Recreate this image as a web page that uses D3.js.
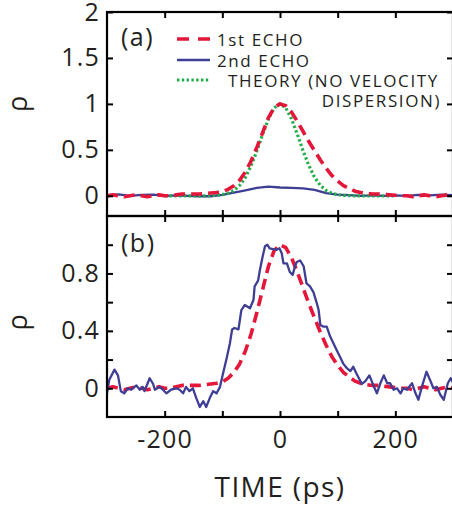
<!DOCTYPE html>
<html>
<head>
<meta charset="utf-8">
<script src="https://cdn.jsdelivr.net/npm/d3@7"></script>
<style>
  html, body { margin: 0; padding: 0; background: #fff; }
  svg { display: block; }
  text { font-family: "Open Sans", "DejaVu Sans", sans-serif; fill: #231f20; }
</style>
</head>
<body>
<svg id="chart" width="452" height="508"></svg>
<script>
// ---- data -----------------------------------------------------------------
// 1st echo (normalized), 10 ps steps
const echo1Time = [-300,-290,-280,-270,-260,-250,-240,-230,-220,-210,-200,-190,-180,-170,-160,-150,-140,-130,-120,-110,
  -100,-90,-80,-70,-60,-50,-40,-30,-20,-10,0,10,20,30,40,50,60,70,80,90,100,110,120,130,140,150,160,170,180,190,200,
  210,220,230,240,250,260,270,280,290,300];
const echo1Value = [0.0,0.01,0.0,-0.01,0.0,0.01,0.0,-0.01,0.0,0.01,0.0,0.0,0.01,0.02,0.02,0.02,0.02,0.025,0.03,0.035,
  0.045,0.07,0.11,0.17,0.26,0.38,0.53,0.69,0.85,0.96,1.0,0.98,0.91,0.81,0.70,0.59,0.49,0.39,0.30,0.22,0.16,0.11,0.08,
  0.05,0.035,0.025,0.02,0.02,0.015,0.01,0.005,0.0,0.0,-0.01,0.0,0.01,0.0,-0.01,0.0,0.01,0.0];

// theory without velocity dispersion
const theoryTime = [-200,-190,-180,-170,-160,-150,-140,-130,-120,-110,-100,-90,-80,-70,-60,-50,-40,-30,-20,-10,0,
  10,20,30,40,50,60,70,80,90,100,110,120,130,140,150,160,170,180,190,200];
const theoryValue = [0,0,0,0,0,0,0,0,0.002,0.005,0.012,0.027,0.058,0.113,0.20,0.33,0.49,0.67,0.837,0.957,1.0,
  0.957,0.837,0.67,0.49,0.33,0.20,0.113,0.058,0.027,0.012,0.005,0.002,0,0,0,0,0,0,0,0];

// 2nd echo, same scale as the 1st echo (panel a)
const echo2RawTime = [-300,-280,-260,-240,-220,-200,-180,-160,-140,-120,-100,-80,-60,-40,-20,0,20,40,60,80,100,
  120,140,160,180,200,220,240,260,280,300];
const echo2RawValue = [0.005,0.015,0.0,0.01,0.012,0.0,0.005,0.0,-0.005,-0.005,0.01,0.035,0.06,0.085,0.1,0.09,0.085,
  0.08,0.065,0.03,0.012,0.008,0.0,0.005,0.0,0.005,0.0,0.01,0.005,0.012,0.005];

// 2nd echo, normalized (panel b)
const echo2Time = [-300,-296,-287,-281,-276,-270,-264,-258,-249,-243,-238,-235,-226,-220,-217,-209,-203,-197,-189,-180,
  -174,-168,-163,-157,-151,-145,-139,-133,-128,-122,-116,-110,-104,-99,-93,-87,-83,-79,-72,-67,-61,-52,-46,-44,-38,
  -35,-30,-26,-22,-18,-12,-6,-1,3,6,12,17,22,26,29,35,41,46,52,58,64,67,70,75,81,87,93,99,104,110,116,122,127,133,
  142,148,155,162,168,174,180,186,191,197,203,209,214,220,229,235,240,246,254,260,266,272,278,284,291,296,300];
const echo2Value = [-0.035,0.06,0.13,0.09,-0.02,-0.035,0.0,-0.01,0.02,-0.01,0.01,-0.02,0.07,0.03,-0.01,0.01,-0.01,
  -0.035,-0.01,0.0,-0.01,-0.035,0.01,-0.02,0.0,-0.07,-0.13,-0.09,-0.13,-0.07,-0.02,-0.035,0.01,0.10,0.20,0.31,0.41,
  0.42,0.41,0.545,0.58,0.557,0.615,0.71,0.75,0.82,0.92,0.99,1.0,0.975,0.97,0.965,0.975,0.94,0.87,0.87,0.81,0.79,0.85,
  0.88,0.89,0.85,0.73,0.71,0.67,0.59,0.545,0.44,0.43,0.43,0.36,0.31,0.26,0.22,0.17,0.14,0.12,0.15,0.10,0.03,0.05,
  0.09,0.02,-0.035,0.035,0.09,0.035,0.035,-0.01,0.0,-0.035,0.0,-0.01,0.035,-0.035,-0.08,0.01,0.115,0.06,0.0,0.01,
  -0.045,-0.08,0.035,0.07,0.04];

// axes
const timeDomain = [-300, 300];
const timeTicks = [-200, -100, 0, 100, 200];
const timeTickLabels = ["-200", "", "0", "", "200"];
const rhoDomainA = [-0.22, 2];
const rhoTicksA = [0, 0.5, 1, 1.5, 2];
const rhoTickLabelsA = ["0", "0.5", "1", "1.5", "2"];
const rhoDomainB = [-0.2, 1.2];
const rhoTicksB = [0, 0.2, 0.4, 0.6, 0.8, 1.0];
const rhoTickLabelsB = ["0", "", "0.4", "", "0.8", ""];

const legendLabels = ["1st ECHO", "2nd ECHO", "THEORY (NO VELOCITY", "DISPERSION)"];

// ---- styles ---------------------------------------------------------------
const RED = "#e4163a", BLUE = "#3e3e94", GREEN = "#1fae48";
const styles = {
  echo1: { stroke: RED, width: 3.6, dash: "11,6" },
  echo2: { stroke: BLUE, width: 2.3, dash: null },
  theory: { stroke: GREEN, width: 3.2, dash: "2.4,2.4" }
};

// ---- layout ---------------------------------------------------------------
const svg = d3.select("#chart");
const left = 107, right = 453;
const panelA = { top: 12, bottom: 216 };
const panelB = { top: 216, bottom: 417 };

const x = d3.scaleLinear().domain(timeDomain).range([left, right]);
const yA = d3.scaleLinear().domain(rhoDomainA).range([panelA.bottom, panelA.top]);
const yB = d3.scaleLinear().domain(rhoDomainB).range([panelB.bottom, panelB.top]);

const defs = svg.append("defs");
function clip(id, p) {
  defs.append("clipPath").attr("id", id)
    .append("rect").attr("x", left).attr("y", p.top)
    .attr("width", right - left).attr("height", p.bottom - p.top);
}
clip("clipA", panelA);
clip("clipB", panelB);

function series(g, y, times, values, st) {
  const pts = times.map((t, i) => [t, values[i]]);
  const line = d3.line().x(d => x(d[0])).y(d => y(d[1]));
  g.append("path").datum(pts)
    .attr("d", line)
    .attr("fill", "none")
    .attr("stroke", st.stroke)
    .attr("stroke-width", st.width)
    .attr("stroke-dasharray", st.dash)
    .attr("stroke-linejoin", "round")
    .attr("stroke-linecap", st.dash ? "butt" : "round");
}

const gA = svg.append("g").attr("clip-path", "url(#clipA)");
series(gA, yA, echo2RawTime, echo2RawValue, styles.echo2);
series(gA, yA, theoryTime, theoryValue, styles.theory);
series(gA, yA, echo1Time, echo1Value, styles.echo1);

const gB = svg.append("g").attr("clip-path", "url(#clipB)");
series(gB, yB, echo1Time, echo1Value, styles.echo1);
series(gB, yB, echo2Time, echo2Value, styles.echo2);

// ---- axes -----------------------------------------------------------------
const TICK = 6;
function styleAxis(g) {
  g.selectAll(".domain").remove();
  g.selectAll(".tick line").attr("stroke", "#000").attr("stroke-width", 2);
  g.selectAll(".tick text")
    .style("font-size", "25px")
    .style("letter-spacing", "1.2px")
    .attr("fill", "#231f20");
}

function frame(p, y, ticks, labels) {
  // left axis with labels
  svg.append("g").attr("transform", `translate(${left},0)`)
    .call(d3.axisLeft(y).tickValues(ticks).tickSizeInner(-TICK).tickSizeOuter(0)
      .tickPadding(7).tickFormat((d, i) => labels[i]))
    .call(styleAxis);
  // right axis ticks
  svg.append("g").attr("transform", `translate(${right},0)`)
    .call(d3.axisRight(y).tickValues(ticks).tickSizeInner(-TICK).tickSizeOuter(0).tickFormat(""))
    .call(styleAxis);
  // top ticks
  svg.append("g").attr("transform", `translate(0,${p.top})`)
    .call(d3.axisTop(x).tickValues(timeTicks).tickSizeInner(-TICK).tickSizeOuter(0).tickFormat(""))
    .call(styleAxis);
  // box
  svg.append("rect").attr("x", left).attr("y", p.top)
    .attr("width", right - left).attr("height", p.bottom - p.top)
    .attr("fill", "none").attr("stroke", "#000").attr("stroke-width", 2.2);
}

frame(panelA, yA, rhoTicksA, rhoTickLabelsA);
frame(panelB, yB, rhoTicksB, rhoTickLabelsB);

// inward ticks on the shared edge (into panel a) and on the bottom edge
svg.append("g").attr("transform", `translate(0,${panelA.bottom})`)
  .call(d3.axisBottom(x).tickValues(timeTicks).tickSizeInner(-TICK).tickSizeOuter(0).tickFormat(""))
  .call(styleAxis);
svg.append("g").attr("transform", `translate(0,${panelB.bottom})`)
  .call(d3.axisBottom(x).tickValues(timeTicks).tickSizeInner(-TICK).tickSizeOuter(0)
    .tickPadding(13).tickFormat((d, i) => timeTickLabels[i]))
  .call(styleAxis);

// axis titles
svg.append("text")
  .attr("x", 280).attr("y", 497)
  .attr("text-anchor", "middle")
  .style("font-size", "28px").style("letter-spacing", "1.4px")
  .text("TIME (ps)");

function rhoLabel(cy) {
  svg.append("text")
    .attr("transform", `translate(27,${cy}) rotate(-90)`)
    .attr("text-anchor", "middle")
    .style("font-size", "27px")
    .text("ρ");
}
rhoLabel(yA(1));
rhoLabel((panelB.top + panelB.bottom) / 2 + 6);

// panel tags
svg.append("text").attr("x", 121).attr("y", 46)
  .style("font-size", "25px").style("letter-spacing", "1.5px").text("(a)");
svg.append("text").attr("x", 121).attr("y", 252)
  .style("font-size", "25px").style("letter-spacing", "1.5px").text("(b)");

// ---- legend ---------------------------------------------------------------
const legend = svg.append("g");
const legendRows = [
  { st: styles.echo1, y: 39, label: legendLabels[0], tx: 217, dash: "12,9" },
  { st: styles.echo2, y: 60, label: legendLabels[1], tx: 217, dash: null },
  { st: styles.theory, y: 80, label: legendLabels[2], tx: 228, dash: styles.theory.dash }
];
legendRows.forEach(r => {
  legend.append("line")
    .attr("x1", 177).attr("x2", 210).attr("y1", r.y).attr("y2", r.y)
    .attr("stroke", r.st.stroke).attr("stroke-width", r.st.width)
    .attr("stroke-dasharray", r.dash);
  legend.append("text")
    .attr("x", r.tx).attr("y", r.y + 6.5)
    .style("font-size", "17px").style("letter-spacing", "1.6px")
    .text(r.label);
});
legend.append("text")
  .attr("x", 441).attr("y", 106.5)
  .attr("text-anchor", "end")
  .style("font-size", "17px").style("letter-spacing", "1.6px")
  .text(legendLabels[3]);
</script>
</body>
</html>
